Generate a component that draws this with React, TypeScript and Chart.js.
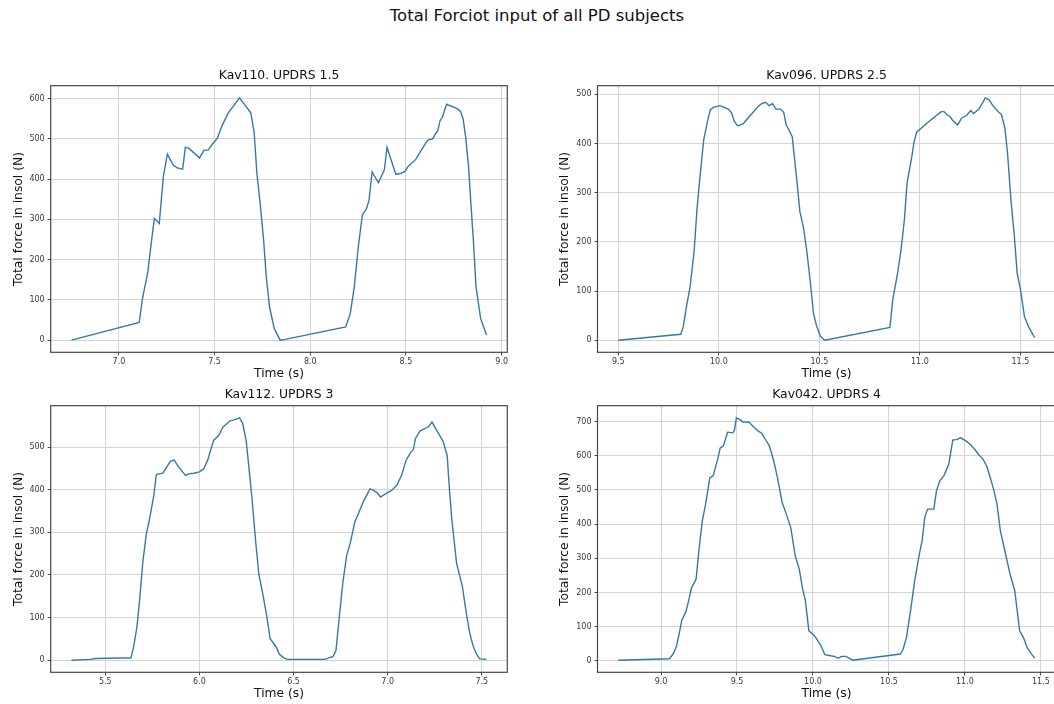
import React, { useEffect, useRef } from "react";
import { Chart, registerables } from "chart.js";

Chart.register(...registerables);

const FONT = "'DejaVu Sans', 'Liberation Sans', sans-serif";
const LINE_COLOR = "#3479a9";
const GRID_COLOR = "#d4d4d4";
const FRAME_COLOR = "#474747";

const mainTitle = "Total Forciot input of all PD subjects";
const xLabel = "Time (s)";
const yLabel = "Total force in insol (N)";

// ---- Kav110, UPDRS 1.5 ----
const kav110Time = [
  6.752, 7.106, 7.124, 7.15, 7.171, 7.185, 7.211, 7.232, 7.253, 7.284, 7.305, 7.333, 7.347, 7.365,
  7.421, 7.445, 7.466, 7.487, 7.515, 7.539, 7.571, 7.63, 7.689, 7.707, 7.721, 7.738, 7.756, 7.77,
  7.787, 7.812, 7.843, 7.869, 8.185, 8.209, 8.23, 8.251, 8.272, 8.293, 8.307, 8.323, 8.356, 8.387,
  8.401, 8.422, 8.447, 8.471, 8.496, 8.51, 8.551, 8.597, 8.614, 8.639, 8.656, 8.666, 8.677, 8.691,
  8.712, 8.768, 8.785, 8.799, 8.813, 8.827, 8.838, 8.852, 8.866, 8.89, 8.921,
];
const kav110Force = [
  0, 44, 106, 166, 249, 302, 290, 406, 462, 435, 428, 425, 479, 477,
  453, 472, 472, 486, 502, 533, 564, 602, 565, 515, 414, 340, 249, 157,
  83, 28, 0, 2, 33, 66, 133, 232, 311, 326, 348, 418, 391, 423,
  479, 448, 412, 414, 420, 431, 449, 485, 497, 500, 514, 519, 544, 555,
  586, 575, 568, 549, 500, 431, 348, 249, 133, 54, 12,
];

// ---- Kav096, UPDRS 2.5 ----
const kav096Time = [
  9.5, 9.811, 9.823, 9.84, 9.857, 9.877, 9.891, 9.908, 9.925, 9.945, 9.958, 9.975, 10.006, 10.047,
  10.064, 10.077, 10.094, 10.12, 10.137, 10.196, 10.213, 10.233, 10.25, 10.267, 10.284, 10.307,
  10.323, 10.335, 10.348, 10.365, 10.379, 10.391, 10.403, 10.42, 10.437, 10.454, 10.471, 10.485,
  10.505, 10.527, 10.851, 10.865, 10.889, 10.906, 10.923, 10.936, 10.96, 10.97, 10.984, 11.045,
  11.106, 11.12, 11.133, 11.15, 11.163, 11.188, 11.208, 11.232, 11.253, 11.267, 11.294, 11.311,
  11.325, 11.344, 11.365, 11.389, 11.406, 11.423, 11.436, 11.453, 11.47, 11.484, 11.501, 11.52,
  11.541, 11.571,
];
const kav096Force = [
  0, 12, 27, 71, 109, 180, 265, 340, 408, 448, 469, 474, 477, 470,
  462, 445, 436, 440, 448, 476, 481, 484, 477, 481, 470, 470,
  463, 438, 428, 414, 360, 313, 262, 231, 183, 122, 54, 31,
  8, 0, 26, 82, 136, 183, 245, 319, 374, 401, 423, 445,
  465, 465, 459, 455, 447, 438, 452, 457, 467, 461, 470, 482,
  493, 489, 476, 465, 459, 431, 380, 285, 211, 136, 102, 48,
  27, 5,
];

// ---- Kav112, UPDRS 3 ----
const kav112Time = [
  5.32, 5.42, 5.447, 5.58, 5.636, 5.65, 5.668, 5.682, 5.7, 5.718, 5.735, 5.756, 5.771, 5.792,
  5.806, 5.824, 5.845, 5.866, 5.887, 5.926, 5.947, 5.972, 6.0, 6.022, 6.043, 6.075, 6.103, 6.124,
  6.163, 6.184, 6.213, 6.23, 6.248, 6.266, 6.28, 6.298, 6.315, 6.336, 6.358, 6.375, 6.407, 6.425,
  6.446, 6.467, 6.641, 6.667, 6.69, 6.708, 6.725, 6.743, 6.761, 6.782, 6.8, 6.825, 6.849, 6.871,
  6.906, 6.927, 6.945, 6.962, 6.994, 7.019, 7.047, 7.074, 7.097, 7.122, 7.136, 7.147, 7.171, 7.216,
  7.235, 7.295, 7.316, 7.327, 7.341, 7.366, 7.397, 7.418, 7.436, 7.454, 7.472, 7.489, 7.525,
];
const kav112Force = [
  0, 2, 4, 5, 5, 31, 78, 141, 234, 297, 332, 383, 436, 438,
  439, 452, 467, 470, 455, 434, 438, 439, 442, 449, 469, 516, 528, 547,
  562, 564, 569, 555, 516, 438, 375, 281, 203, 156, 102, 51, 31, 14,
  6, 2, 2, 2, 6, 8, 22, 102, 180, 246, 273, 324, 349, 373,
  402, 398, 393, 383, 392, 398, 410, 434, 469, 488, 494, 520, 538, 548,
  559, 513, 480, 406, 328, 227, 172, 109, 63, 33, 14, 3, 2,
];

// ---- Kav042, UPDRS 4 ----
const kav042Time = [
  8.719, 9.056, 9.079, 9.101, 9.119, 9.137, 9.164, 9.182, 9.2, 9.231, 9.249, 9.272, 9.294, 9.321,
  9.344, 9.375, 9.389, 9.411, 9.438, 9.472, 9.483, 9.496, 9.523, 9.541, 9.577, 9.609, 9.64, 9.663,
  9.685, 9.712, 9.741, 9.766, 9.797, 9.824, 9.854, 9.883, 9.91, 9.932, 9.95, 9.973, 10.0, 10.022,
  10.053, 10.078, 10.116, 10.139, 10.166, 10.189, 10.216, 10.238, 10.26, 10.575, 10.593, 10.615,
  10.642, 10.669, 10.7, 10.718, 10.736, 10.754, 10.795, 10.813, 10.835, 10.862, 10.894, 10.92,
  10.952, 10.97, 11.011, 11.037, 11.064, 11.091, 11.118, 11.145, 11.166, 11.188, 11.211, 11.233,
  11.265, 11.297, 11.328, 11.36, 11.387, 11.409, 11.436, 11.459,
];
const kav042Force = [
  2, 6, 20, 41, 78, 119, 144, 176, 213, 239, 322, 410, 459, 535,
  542, 594, 622, 630, 669, 667, 674, 711, 705, 698, 699, 685, 672, 666,
  649, 630, 586, 537, 464, 430, 390, 308, 268, 210, 176, 88, 78, 66,
  44, 18, 15, 13, 8, 13, 13, 8, 2, 20, 34, 68,
  146, 234, 312, 351, 420, 444, 444, 498, 527, 542, 576, 646,
  648, 653, 642, 632, 619, 603, 591, 568, 537, 503, 459, 381,
  317, 254, 205, 88, 66, 39, 21, 8,
];

const subplotTitles = [
  "Kav110. UPDRS 1.5",
  "Kav096. UPDRS 2.5",
  "Kav112. UPDRS 3",
  "Kav042. UPDRS 4",
];

const xTicks110 = [7.0, 7.5, 8.0, 8.5, 9.0];
const yTicks110 = [0, 100, 200, 300, 400, 500, 600];
const xTicks096 = [9.5, 10.0, 10.5, 11.0, 11.5];
const yTicks096 = [0, 100, 200, 300, 400, 500];
const xTicks112 = [5.5, 6.0, 6.5, 7.0, 7.5];
const yTicks112 = [0, 100, 200, 300, 400, 500];
const xTicks042 = [9.0, 9.5, 10.0, 10.5, 11.0, 11.5];
const yTicks042 = [0, 100, 200, 300, 400, 500, 600, 700];

function paddedRange(arr: number[]): [number, number] {
  const mn = Math.min(...arr);
  const mx = Math.max(...arr);
  const m = (mx - mn) * 0.05;
  return [mn - m, mx + m];
}

// Frame around the axes and the subplot title centred over the plot area (matplotlib style)
const framePlugin = {
  id: "frame",
  afterDraw(chart: any, _args: any, opts: any) {
    const { ctx, chartArea } = chart;
    const { left, top, right, bottom } = chartArea;
    ctx.save();
    ctx.strokeStyle = FRAME_COLOR;
    ctx.lineWidth = 1.2;
    ctx.strokeRect(left, top, right - left, bottom - top);
    ctx.fillStyle = "#111";
    ctx.font = `normal 12.4px ${FONT}`;
    ctx.textAlign = "center";
    ctx.textBaseline = "middle";
    ctx.fillText(opts.text, (left + right) / 2, top - opts.gap);
    ctx.restore();
  },
};

type Layout = {
  left: number;
  top: number;
  width: number;
  height: number;
  plotTop: number;
  titleGap: number;
  yAxisWidth: number;
  rightPad: number;
  xAxisHeight: number;
  yTitlePad: number;
  xTitlePad: number;
};

type PanelProps = {
  title: string;
  time: number[];
  force: number[];
  xTicks: number[];
  yTicks: number[];
  lay: Layout;
};

function Panel({ title, time, force, xTicks, yTicks, lay }: PanelProps) {
  const ref = useRef<HTMLCanvasElement | null>(null);
  useEffect(() => {
    if (!ref.current) return;
    const [xmin, xmax] = paddedRange(time);
    const [ymin, ymax] = paddedRange(force);
    const chart = new Chart(ref.current, {
      type: "line",
      data: {
        datasets: [
          {
            data: time.map((t, i) => ({ x: t, y: force[i] })),
            borderColor: LINE_COLOR,
            borderWidth: 1.4,
            pointRadius: 0,
            tension: 0,
            fill: false,
          },
        ],
      },
      options: {
        responsive: false,
        animation: false,
        devicePixelRatio: 1,
        layout: { padding: { top: lay.plotTop, left: 0, bottom: 0, right: lay.rightPad } },
        plugins: {
          legend: { display: false },
          tooltip: { enabled: false },
          title: { display: false },
          frame: { text: title, gap: lay.titleGap },
        },
        scales: {
          x: {
            type: "linear",
            min: xmin,
            max: xmax,
            afterBuildTicks: (s: any) => {
              s.ticks = xTicks.map((v) => ({ value: v }));
            },
            afterFit: (s: any) => {
              s.height = lay.xAxisHeight;
              s.paddingLeft = 0;
              s.paddingRight = 0;
            },
            ticks: {
              callback: (v: any) => Number(v).toFixed(1),
              font: { family: FONT, size: 8 },
              color: "#3a3a3a",
              padding: 2,
              maxRotation: 0,
              autoSkip: false,
            },
            grid: { color: GRID_COLOR, lineWidth: 1, tickColor: "#4a4a4a", tickLength: 3, drawTicks: true },
            border: { display: false },
            title: {
              display: true,
              text: xLabel,
              color: "#111",
              font: { family: FONT, size: 12.3 },
              padding: { top: 0, bottom: lay.xTitlePad },
            },
          },
          y: {
            type: "linear",
            min: ymin,
            max: ymax,
            afterBuildTicks: (s: any) => {
              s.ticks = yTicks.map((v) => ({ value: v }));
            },
            afterFit: (s: any) => {
              s.width = lay.yAxisWidth;
              s.paddingTop = 0;
              s.paddingBottom = 0;
            },
            ticks: {
              callback: (v: any) => String(Math.round(Number(v))),
              font: { family: FONT, size: 8 },
              color: "#3a3a3a",
              padding: 3,
              autoSkip: false,
            },
            grid: { color: GRID_COLOR, lineWidth: 1, tickColor: "#4a4a4a", tickLength: 3, drawTicks: true },
            border: { display: false },
            title: {
              display: true,
              text: yLabel,
              color: "#111",
              font: { family: FONT, size: 12.3 },
              padding: { top: lay.yTitlePad, bottom: 0 },
            },
          },
        },
      } as any,
      plugins: [framePlugin],
    });
    return () => chart.destroy();
  }, []);
  return (
    <canvas
      ref={ref}
      width={lay.width}
      height={lay.height}
      style={{
        position: "absolute",
        left: lay.left,
        top: lay.top,
        width: lay.width,
        height: lay.height,
      }}
    />
  );
}

const layTL: Layout = {
  left: 0, top: 60, width: 527, height: 330, plotTop: 25.7, titleGap: 10,
  yAxisWidth: 50.7, rightPad: 19.7, xAxisHeight: 37.7, yTitlePad: 11.1, xTitlePad: 9.3,
};
const layTR: Layout = {
  left: 527, top: 60, width: 531, height: 330, plotTop: 25.7, titleGap: 10,
  yAxisWidth: 70.5, rightPad: 2.5, xAxisHeight: 37.7, yTitlePad: 30.9, xTitlePad: 9.3,
};
const layBL: Layout = {
  left: 0, top: 380, width: 527, height: 324, plotTop: 25.7, titleGap: 10.7,
  yAxisWidth: 50.7, rightPad: 19.7, xAxisHeight: 31.7, yTitlePad: 11.1, xTitlePad: 3.3,
};
const layBR: Layout = {
  left: 527, top: 380, width: 531, height: 324, plotTop: 25.7, titleGap: 10.7,
  yAxisWidth: 70.5, rightPad: 2.5, xAxisHeight: 31.7, yTitlePad: 30.9, xTitlePad: 3.3,
};

export default function App() {
  return (
    <div
      style={{
        position: "fixed",
        left: 0,
        top: 0,
        width: 1054,
        height: 704,
        background: "#fff",
        overflow: "hidden",
      }}
    >
      <div
        style={{
          position: "absolute",
          left: 0,
          top: 6,
          width: 1074,
          textAlign: "center",
          fontFamily: FONT,
          fontSize: 16.5,
          lineHeight: "20px",
          color: "#111",
        }}
      >
        {mainTitle}
      </div>
      <Panel title={subplotTitles[0]} time={kav110Time} force={kav110Force} xTicks={xTicks110} yTicks={yTicks110} lay={layTL} />
      <Panel title={subplotTitles[1]} time={kav096Time} force={kav096Force} xTicks={xTicks096} yTicks={yTicks096} lay={layTR} />
      <Panel title={subplotTitles[2]} time={kav112Time} force={kav112Force} xTicks={xTicks112} yTicks={yTicks112} lay={layBL} />
      <Panel title={subplotTitles[3]} time={kav042Time} force={kav042Force} xTicks={xTicks042} yTicks={yTicks042} lay={layBR} />
    </div>
  );
}
